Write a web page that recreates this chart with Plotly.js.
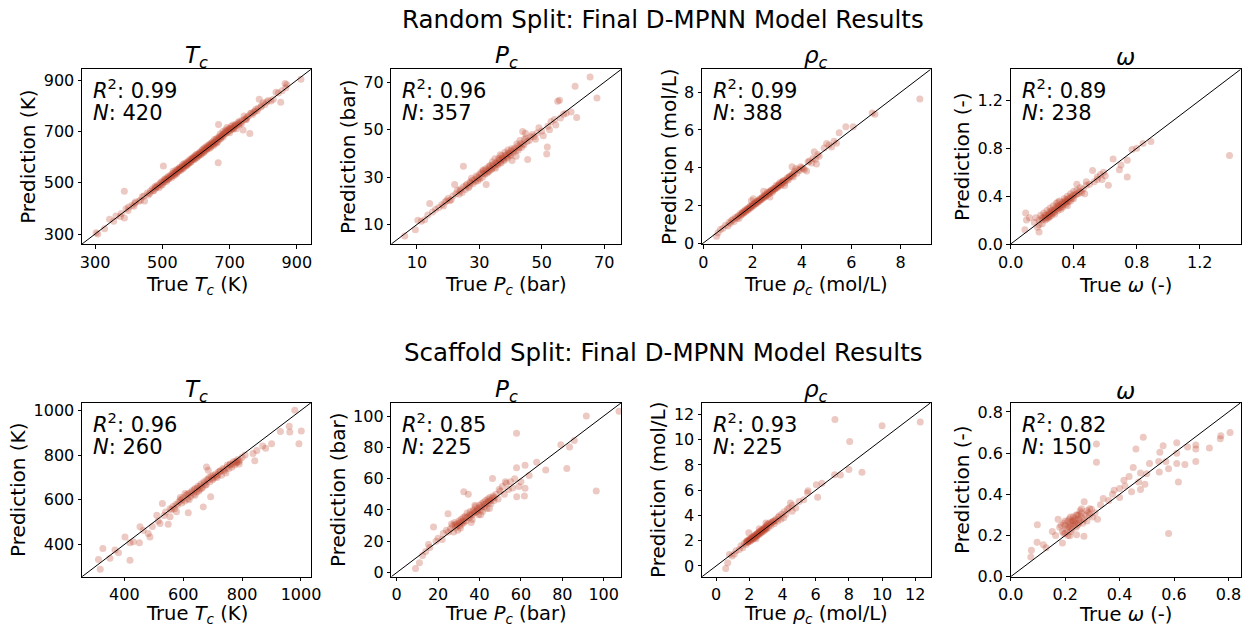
<!DOCTYPE html>
<html>
<head>
<meta charset="utf-8">
<script src="https://cdn.plot.ly/plotly-3.0.1.min.js"></script>
<style>html,body{margin:0;padding:0;background:#fff;}#chart{width:1242px;height:628px;}</style>
</head>
<body>
<div id="chart"></div>
<script>
// ---------- DATA (true, predicted) ----------
const randomTc = [[303,305],[308,300],[328,320],[343,357],[355,350],[362,370],[375,368],[387,362],[392,398],[387,467],[400,405],[410,412],[418,420],[430,428],[440,445],[447,429],[455,460],[462,458],[470,475],[475,470],[480,482],[485,490],[490,480],[495,500],[498,505],[500,492],[503,565],[505,510],[510,512],[512,505],[515,520],[518,525],[520,515],[525,530],[528,520],[530,535],[532,545],[535,528],[538,540],[540,548],[542,535],[545,552],[548,545],[550,555],[552,560],[555,548],[558,562],[560,570],[562,555],[565,575],[568,565],[570,572],[572,580],[575,570],[578,585],[580,578],[582,590],[585,582],[588,595],[590,588],[592,600],[595,590],[598,605],[600,610],[602,598],[605,612],[608,605],[610,615],[612,620],[615,610],[618,625],[620,630],[622,618],[625,635],[628,625],[630,640],[632,632],[635,645],[638,640],[640,650],[642,635],[645,655],[648,650],[650,660],[652,645],[655,668],[658,660],[660,670],[662,655],[665,675],[667,727],[666,578],[668,668],[670,680],[672,690],[675,678],[678,685],[680,700],[682,690],[685,695],[688,705],[690,700],[692,715],[695,705],[698,710],[700,695],[702,712],[705,720],[708,710],[710,725],[712,715],[715,722],[718,728],[720,710],[725,735],[728,725],[730,740],[735,730],[740,705],[743,760],[748,745],[752,755],[760,692],[762,770],[768,766],[772,775],[778,786],[782,780],[788,825],[795,800],[805,805],[815,820],[823,818],[838,853],[845,850],[852,814],[865,887],[867,870],[912,903],
  [480,478],[486,484],[492,495],[496,490],[502,500],[506,504],[508,515],[514,510],[517,514],[522,522],[526,524],[531,528],[534,538],[537,533],[541,542],[544,540],[547,550],[551,548],[554,556],[557,553],[561,563],[564,560],[567,570],[571,566],[574,577],[577,574],[581,584],[584,580],[587,590],[591,594],[594,598],[597,593],[601,604],[604,600],[607,610],[611,608],[614,618],[617,614],[621,624],[624,620],[627,631],[631,628],[634,638],[637,633],[641,645],[644,640],[647,652],[651,648],[654,658],[657,653],[661,665],[664,660],[669,673],[673,670],[677,682],[681,678],[686,690],[691,694],[696,700],[701,704],[706,709],[711,708],[716,719],[721,724],[727,730],[733,736],[738,742],[745,748],[750,748],[756,760],[765,772],[775,778],[785,790],[793,795],[800,812],[810,815],[830,825],[856,858],[870,882],[458,452],[465,468],[472,468],[478,485],[420,425],[435,432],[445,448],[378,380],[398,392],[415,408]];
const randomPc = [[6.1,5.2],[9.5,7.8],[10.3,11.8],[11.4,11.4],[12.5,12.0],[13.5,14.0],[14.1,18.9],[15.0,15.3],[16.0,16.5],[17.0,17.2],[18.0,18.5],[18.5,17.8],[19.5,20.0],[20.0,21.0],[21.0,20.5],[21.5,22.0],[22.1,26.9],[22.5,23.0],[23.0,24.5],[23.5,22.8],[24.0,25.0],[24.5,23.5],[24.9,34.6],[25.0,26.0],[25.5,24.8],[26.0,27.0],[26.5,25.5],[27.0,28.0],[27.5,29.5],[28.0,27.2],[28.5,29.0],[29.0,30.5],[29.5,28.5],[30.0,31.0],[30.2,29.2],[30.5,32.0],[31.0,30.0],[31.2,33.0],[31.5,31.5],[32.0,33.5],[32.2,26.9],[32.5,31.8],[33.0,34.5],[33.2,32.5],[33.5,35.0],[34.0,33.5],[34.2,36.5],[34.5,34.8],[35.0,37.8],[35.2,33.8],[35.5,36.0],[36.0,35.2],[36.2,38.0],[36.5,37.0],[37.0,36.0],[37.2,39.0],[37.5,38.0],[38.0,37.0],[38.2,40.5],[38.5,39.0],[39.0,38.0],[39.2,41.5],[39.5,40.0],[40.0,39.0],[40.3,42.0],[40.5,37.0],[41.0,41.5],[41.8,38.8],[42.0,44.0],[42.5,41.5],[43.0,45.5],[43.5,42.5],[43.9,49.3],[44.0,44.0],[44.5,46.0],[45.0,46.5],[45.5,37.5],[46.0,45.5],[47.0,48.0],[48.0,46.0],[49.1,50.8],[50.0,49.5],[50.5,47.5],[51.6,39.8],[51.8,42.7],[52.5,50.0],[53.0,53.5],[54.1,54.3],[55.1,62.0],[55.7,62.4],[56.0,55.0],[57.8,57.0],[59.4,57.5],[60.7,68.3],[61.2,55.2],[65.5,72.2],[67.7,63.4],
  [25.8,26.5],[26.8,26.2],[27.8,28.6],[28.8,28.2],[29.3,30.0],[29.8,29.5],[30.8,31.5],[31.8,31.2],[32.3,33.0],[32.8,32.4],[33.3,34.0],[33.8,33.2],[34.3,35.2],[34.8,34.2],[35.3,36.0],[35.8,35.5],[36.3,37.2],[36.8,36.4],[37.3,38.0],[37.8,37.4],[38.3,39.2],[38.8,38.5],[39.3,40.2],[39.8,39.5],[40.2,41.0],[40.8,40.4],[41.3,42.2],[41.7,41.0],[42.3,43.0],[42.8,42.5],[43.3,44.2],[44.3,43.6],[45.3,45.0],[46.5,47.0],[47.5,47.0],[19.0,19.5],[20.5,20.0],[23.8,24.2],[27.2,27.5],[31.3,32.6],[36.7,39.5],[44.8,48.5],[48.5,48.6],[52.0,51.5],[54.5,52.0],[57.0,56.5]];
const randomRho = [[0.54,0.36],[0.6,0.55],[0.7,0.72],[0.8,0.78],[0.9,0.95],[1.0,0.9],[1.05,1.1],[1.1,1.05],[1.2,1.25],[1.25,1.15],[1.3,1.35],[1.4,1.4],[1.45,1.3],[1.5,1.55],[1.55,1.5],[1.6,1.65],[1.65,1.6],[1.7,1.75],[1.75,1.7],[1.8,1.85],[1.85,1.8],[1.9,1.95],[1.95,1.9],[2.0,2.05],[2.03,2.35],[2.05,2.0],[2.1,2.15],[2.15,2.1],[2.2,2.25],[2.25,2.2],[2.3,2.35],[2.35,2.3],[2.4,2.45],[2.45,2.4],[2.5,2.55],[2.55,2.5],[2.6,2.7],[2.65,2.6],[2.7,2.75],[2.75,2.8],[2.8,2.7],[2.85,2.9],[2.9,2.85],[2.95,3.05],[3.0,2.95],[3.05,3.1],[3.1,3.2],[3.15,3.05],[3.2,3.25],[3.25,3.3],[3.3,3.2],[3.4,3.45],[3.45,3.35],[3.5,3.55],[3.6,3.65],[3.65,3.5],[3.7,3.8],[3.75,3.95],[3.8,3.7],[3.9,3.85],[4.0,4.0],[4.1,3.9],[4.19,3.82],[4.3,4.35],[4.4,4.25],[4.5,4.84],[4.55,4.45],[4.59,4.2],[4.7,4.6],[4.9,5.05],[5.0,5.28],[5.2,5.1],[5.4,5.3],[5.51,5.85],[5.78,6.17],[6.08,6.17],[6.96,6.84],[6.85,6.9],[8.78,7.64],
  [1.15,1.2],[1.35,1.3],[1.42,1.45],[1.52,1.48],[1.58,1.6],[1.62,1.58],[1.68,1.7],[1.72,1.68],[1.78,1.8],[1.82,1.78],[1.88,1.9],[1.92,1.88],[1.98,2.0],[2.02,1.98],[2.08,2.1],[2.12,2.08],[2.18,2.2],[2.22,2.18],[2.28,2.3],[2.32,2.28],[2.38,2.4],[2.42,2.38],[2.48,2.5],[2.52,2.48],[2.58,2.6],[2.62,2.58],[2.68,2.7],[2.72,2.68],[2.78,2.8],[2.82,2.78],[2.88,2.9],[2.92,2.88],[2.98,3.0],[3.02,2.98],[3.08,3.1],[3.12,3.08],[3.18,3.2],[3.22,3.18],[3.28,3.3],[3.35,3.32],[3.42,3.4],[3.48,3.5],[3.55,3.52],[3.62,3.6],[3.68,3.7],[3.85,3.9],[3.95,4.05],[4.05,3.95],[4.25,4.3],[4.45,4.5],[4.65,4.7],[5.1,5.2],[5.3,5.4],[2.45,2.75],[1.95,2.25],[3.6,4.05],[2.7,2.45],[3.3,3.05]];
const randomOmega = [[0.09,0.12],[0.1,0.2],[0.095,0.26],[0.12,0.22],[0.15,0.18],[0.17,0.14],[0.18,0.1],[0.18,0.2],[0.19,0.24],[0.2,0.17],[0.2,0.22],[0.21,0.26],[0.22,0.2],[0.22,0.24],[0.23,0.21],[0.23,0.28],[0.24,0.25],[0.24,0.22],[0.25,0.27],[0.25,0.3],[0.26,0.24],[0.26,0.28],[0.27,0.32],[0.27,0.26],[0.28,0.29],[0.28,0.25],[0.29,0.31],[0.29,0.34],[0.3,0.28],[0.3,0.32],[0.31,0.3],[0.31,0.36],[0.32,0.33],[0.32,0.29],[0.33,0.35],[0.33,0.31],[0.34,0.38],[0.34,0.34],[0.35,0.33],[0.35,0.37],[0.36,0.4],[0.36,0.35],[0.37,0.38],[0.38,0.36],[0.38,0.42],[0.39,0.4],[0.4,0.38],[0.4,0.44],[0.41,0.41],[0.42,0.5],[0.42,0.45],[0.43,0.42],[0.44,0.47],[0.45,0.43],[0.46,0.46],[0.47,0.42],[0.48,0.49],[0.5,0.5],[0.52,0.615],[0.53,0.52],[0.55,0.56],[0.57,0.58],[0.58,0.54],[0.59,0.6],[0.6,0.57],[0.62,0.49],[0.65,0.71],[0.69,0.62],[0.7,0.66],[0.74,0.56],[0.74,0.7],[0.77,0.79],[0.8,0.8],[0.84,0.84],[0.89,0.857],[1.389,0.74],
  [0.2,0.2],[0.21,0.22],[0.22,0.22],[0.23,0.24],[0.24,0.23],[0.25,0.25],[0.26,0.26],[0.27,0.28],[0.28,0.27],[0.29,0.29],[0.3,0.3],[0.31,0.32],[0.32,0.31],[0.33,0.33],[0.34,0.35],[0.35,0.35],[0.36,0.37],[0.37,0.36],[0.38,0.39],[0.39,0.38],[0.4,0.41],[0.42,0.42],[0.44,0.44],[0.3,0.35],[0.25,0.23],[0.36,0.32],[0.18,0.16],[0.16,0.22],[0.48,0.52],[0.55,0.54]];
const scaffoldTc = [[318,289],[312,333],[327,382],[351,338],[368,375],[380,363],[402,434],[419,330],[419,408],[430,412],[451,408],[453,479],[464,464],[481,449],[487,434],[495,480],[510,531],[515,505],[521,494],[529,583],[535,530],[540,545],[549,491],[555,524],[560,555],[565,570],[570,560],[577,546],[580,575],[585,590],[590,600],[595,585],[600,610],[605,595],[606,628],[610,620],[615,605],[617,542],[620,630],[625,615],[630,640],[635,625],[640,650],[645,635],[650,660],[655,645],[660,670],[662,650],[668,568],[670,680],[675,665],[679,747],[680,690],[685,732],[688,700],[690,680],[693,613],[695,705],[700,690],[705,700],[710,715],[715,700],[720,725],[724,725],[730,710],[735,740],[740,730],[745,720],[750,755],[755,740],[760,760],[765,745],[770,770],[775,755],[780,765],[785,780],[790,760],[792,777],[800,790],[810,800],[837,807],[843,774],[850,820],[870,840],[880,830],[900,850],[930,905],[960,929],[962,903],[979,1000],[993,851],[1001,908],
  [555,560],[575,580],[595,600],[615,625],[628,632],[638,645],[648,652],[652,638],[658,662],[665,655],[672,675],[678,668],[684,690],[698,695],[702,710],[712,705],[718,712],[726,730],[738,735],[748,745],[758,755],[768,760],[778,772],[782,768],[788,770],[640,620],[620,600],[590,610]];
const scaffoldPc = [[9.1,2.7],[11,6.3],[12.5,11],[14,13.5],[15.4,17.9],[16,16],[17.8,29.1],[19,20],[20,22],[22,21.1],[22.5,25],[24,27],[24.8,37.6],[25,26],[26,28],[27,30],[27.5,26],[28,32],[28.5,29],[29,31],[29.5,27],[30,33],[30.5,30],[31,34],[31.5,31],[32,35],[32.4,51.7],[32.5,32],[33,36],[33.5,33],[34,38],[34.6,50],[35,35],[35.5,39],[36,37],[36.5,34],[37,40],[37.5,38],[38,42],[38.5,39],[39,41],[39.5,37],[40,43],[40.5,40],[41,44],[41.5,39],[42,45],[42.5,42],[43,46],[43.5,41],[44,47],[44.5,45],[45,48],[45.5,44],[46.3,60.1],[46.5,49],[47,46],[48,50],[49,47],[50,52],[51,55],[52,50],[53,57],[54,53],[55,58],[56,54],[57,60],[57.9,66.9],[57.9,89],[58,48.5],[59,55],[60,58],[61.7,49],[62,53.8],[62,68.6],[64,62],[67.6,70.5],[72,65.6],[79.3,81.6],[82.2,66.5],[83.5,80.2],[85.8,84.4],[91.6,100],[96.4,52.1],[107.4,103],
  [28.2,30.5],[29.2,30],[30.2,31.5],[31.2,32.5],[32.2,33],[33.2,35],[34.2,35.5],[35.2,37],[36.2,36.5],[37.2,39],[38.2,38.5],[39.2,40],[40.2,41.5],[41.2,42],[42.2,43.5],[43.2,44],[44.2,45.5],[45.2,46],[46.2,47.5],[47.2,48],[30.8,28.5],[36,32],[40.6,37],[44.8,41],[26.5,31],[37.8,43],[49.5,53],[52.5,58]];
const scaffoldRho = [[0.58,-0.21],[0.7,0.26],[0.96,0.79],[0.8,0.9],[1.1,0.95],[1.2,1.2],[1.4,1.3],[1.5,1.6],[1.6,1.45],[1.7,1.8],[1.8,1.7],[1.85,1.95],[1.9,1.85],[1.97,2.63],[2.0,2.05],[2.05,1.95],[2.1,2.2],[2.15,2.05],[2.2,2.3],[2.25,2.15],[2.3,2.4],[2.35,2.25],[2.4,2.5],[2.45,2.35],[2.5,2.6],[2.55,2.45],[2.6,2.7],[2.65,2.55],[2.7,2.8],[2.75,2.65],[2.8,2.9],[2.85,2.75],[2.9,3.0],[2.95,2.85],[3.0,3.15],[3.05,2.95],[3.1,3.3],[3.15,3.05],[3.2,3.4],[3.3,3.2],[3.4,3.5],[3.5,3.35],[3.6,3.7],[3.7,3.55],[3.8,3.95],[3.9,3.7],[4.07,3.81],[4.1,4.3],[4.2,4.1],[4.3,4.5],[4.48,4.99],[4.58,4.33],[4.6,4.8],[4.8,4.6],[5.0,5.1],[5.28,5.25],[5.5,5.8],[5.54,5.96],[6.04,6.43],[6.12,5.44],[6.38,6.56],[7.14,7.22],[7.16,11.6],[7.49,7.2],[8.0,7.64],[8.05,9.85],[8.79,7.43],[10.0,11.1],[12.3,11.4],
  [1.82,1.9],[1.88,2.0],[1.92,1.9],[1.98,2.1],[2.02,2.0],[2.08,2.15],[2.12,2.1],[2.18,2.25],[2.22,2.2],[2.28,2.35],[2.32,2.3],[2.38,2.45],[2.42,2.4],[2.48,2.55],[2.52,2.5],[2.58,2.65],[2.62,2.6],[2.68,2.75],[2.72,2.7],[2.78,2.85],[2.82,2.8],[2.88,2.95],[2.92,2.9],[2.98,3.05],[3.02,3.0],[3.08,3.2],[3.25,3.3],[3.35,3.45],[3.45,3.55],[3.55,3.6],[3.75,3.85],[3.95,4.1],[4.4,4.6],[2.6,2.95],[3.0,3.4],[2.4,2.15]];
const scaffoldOmega = [[0.074,0.096],[0.076,0.128],[0.097,0.167],[0.098,0.252],[0.12,0.155],[0.13,0.14],[0.153,0.22],[0.165,0.2],[0.174,0.279],[0.18,0.24],[0.19,0.164],[0.19,0.22],[0.195,0.26],[0.2,0.21],[0.2,0.25],[0.205,0.23],[0.21,0.27],[0.21,0.2],[0.215,0.24],[0.217,0.199],[0.22,0.26],[0.22,0.29],[0.225,0.23],[0.23,0.27],[0.23,0.25],[0.235,0.28],[0.24,0.24],[0.242,0.204],[0.245,0.3],[0.25,0.26],[0.25,0.28],[0.255,0.32],[0.26,0.29],[0.264,0.26],[0.269,0.196],[0.27,0.364],[0.275,0.3],[0.28,0.27],[0.285,0.31],[0.29,0.33],[0.297,0.327],[0.3,0.29],[0.31,0.31],[0.315,0.556],[0.315,0.645],[0.319,0.279],[0.33,0.35],[0.34,0.38],[0.36,0.37],[0.374,0.4],[0.38,0.42],[0.4,0.385],[0.4,0.428],[0.416,0.468],[0.42,0.44],[0.435,0.487],[0.444,0.412],[0.45,0.53],[0.46,0.62],[0.47,0.46],[0.477,0.423],[0.477,0.503],[0.487,0.677],[0.493,0.449],[0.5,0.5],[0.51,0.55],[0.544,0.56],[0.546,0.508],[0.548,0.604],[0.56,0.636],[0.57,0.56],[0.58,0.524],[0.58,0.21],[0.61,0.55],[0.61,0.6],[0.61,0.65],[0.616,0.46],[0.64,0.545],[0.65,0.63],[0.68,0.56],[0.68,0.62],[0.68,0.64],[0.73,0.625],[0.77,0.67],[0.772,0.685],[0.806,0.7],
  [0.185,0.25],[0.2,0.27],[0.21,0.24],[0.215,0.28],[0.22,0.25],[0.225,0.27],[0.23,0.29],[0.235,0.26],[0.24,0.27],[0.245,0.25],[0.25,0.3],[0.255,0.27],[0.26,0.31],[0.27,0.28],[0.28,0.32],[0.22,0.22],[0.195,0.21],[0.24,0.3],[0.26,0.33],[0.29,0.3]];

const rowTitles = ['Random Split: Final D-MPNN Model Results', 'Scaffold Split: Final D-MPNN Model Results'];
const propSymbols = ['<i>T<sub>c</sub></i>', '<i>P<sub>c</sub></i>', '<i>ρ<sub>c</sub></i>', '<i>ω</i>'];
const propUnits = ['K', 'bar', 'mol/L', '-'];
const r2Values = [['0.99', '0.96', '0.99', '0.89'], ['0.96', '0.85', '0.93', '0.82']];
const nValues = [[420, 357, 388, 238], [260, 225, 225, 150]];
const tickValues = [
  [[300, 500, 700, 900], [10, 30, 50, 70], [0, 2, 4, 6, 8], [0, 0.4, 0.8, 1.2]],
  [[400, 600, 800, 1000], [0, 20, 40, 60, 80, 100], [0, 2, 4, 6, 8, 10, 12], [0, 0.2, 0.4, 0.6, 0.8]]
];
const seriesGrid = [[randomTc, randomPc, randomRho, randomOmega], [scaffoldTc, scaffoldPc, scaffoldRho, scaffoldOmega]];

// ---------- LAYOUT SETTINGS ----------
const W = 1242, H = 628;
const FONT = 'DejaVu Sans, Verdana, sans-serif';
const axisRanges = [
  [[261, 942], [1.8, 75.5], [-0.05, 9.22], [0, 1.46]],
  [[256, 1034], [-2.6, 108.5], [-0.85, 12.93], [0, 0.845]]
];
const tickFormats = ['', '', '', '.1f'];
const colPx = [[82, 311], [391.3, 621.3], [702, 930.7], [1010.7, 1240.7]];
const rowPx = [[69.3, 244], [402.7, 576.7]];
const titleYpx = [20, 352];
const xTitleShift = [-41, -38];
const pointColor = 'rgb(190,68,46)';

const traces = [];
const layout = {
  width: W, height: H,
  margin: {l: 0, r: 0, t: 0, b: 0},
  paper_bgcolor: '#fff', plot_bgcolor: '#fff',
  showlegend: false,
  font: {family: FONT, color: '#000', size: 16},
  annotations: [], shapes: []
};

rowTitles.forEach((t, r) => {
  layout.annotations.push({
    text: t, xref: 'paper', yref: 'paper', x: 663 / W, y: 1 - titleYpx[r] / H,
    xanchor: 'center', yanchor: 'middle', showarrow: false,
    font: {family: FONT, size: 24.5, color: '#000'}
  });
});

for (let r = 0; r < 2; r++) {
  for (let c = 0; c < 4; c++) {
    const k = r * 4 + c + 1;
    const xa = 'x' + (k === 1 ? '' : k), ya = 'y' + (k === 1 ? '' : k);
    const xKey = 'xaxis' + (k === 1 ? '' : k), yKey = 'yaxis' + (k === 1 ? '' : k);
    const pts = seriesGrid[r][c];
    const rng = axisRanges[r][c];
    traces.push({
      type: 'scatter', mode: 'markers', xaxis: xa, yaxis: ya,
      x: pts.map(p => p[0]), y: pts.map(p => p[1]),
      marker: {color: pointColor, size: 7, opacity: 0.29, line: {width: 0}},
      hoverinfo: 'skip'
    });
    traces.push({
      type: 'scatter', mode: 'lines', xaxis: xa, yaxis: ya,
      x: [rng[0], rng[1]], y: [rng[0], rng[1]],
      line: {color: '#000', width: 1}, hoverinfo: 'skip'
    });
    const common = {
      range: rng, tickvals: tickValues[r][c], tickformat: tickFormats[c],
      showgrid: false, zeroline: false, showline: true, mirror: true,
      linecolor: '#000', linewidth: 1, ticks: 'outside', ticklen: 3.5, tickcolor: '#000',
      tickfont: {family: FONT, size: 16, color: '#000'}, fixedrange: true
    };
    layout[xKey] = Object.assign({}, common, {
      domain: [colPx[c][0] / W, colPx[c][1] / W], anchor: ya
    });
    layout[yKey] = Object.assign({}, common, {
      domain: [1 - rowPx[r][1] / H, 1 - rowPx[r][0] / H], anchor: xa,
      title: {text: 'Prediction (' + propUnits[c] + ')', standoff: 2,
              font: {family: FONT, size: 20, color: '#000'}}
    });
    // x-axis title (placed as annotation so the bottom row is not squeezed)
    layout.annotations.push({
      text: 'True ' + propSymbols[c] + ' (' + propUnits[c] + ')', xref: xa + ' domain', yref: ya + ' domain',
      x: 0.5, y: 0, xanchor: 'center', yanchor: 'middle', yshift: xTitleShift[r], showarrow: false,
      font: {family: FONT, size: 19.5, color: '#000'}
    });
    // subplot title
    layout.annotations.push({
      text: propSymbols[c], xref: xa + ' domain', yref: ya + ' domain', x: 0.5, y: 1,
      xanchor: 'center', yanchor: 'middle', yshift: 12, showarrow: false,
      font: {family: FONT, size: 23, color: '#000'}
    });
    // stats text
    layout.annotations.push({
      text: '<i>R</i><sup>2</sup>: ' + r2Values[r][c], xref: xa + ' domain', yref: ya + ' domain',
      x: 0, y: 1, xanchor: 'left', yanchor: 'middle', xshift: 9, yshift: -20, showarrow: false,
      font: {family: FONT, size: 21, color: '#000'}
    });
    layout.annotations.push({
      text: '<i>N</i>: ' + nValues[r][c], xref: xa + ' domain', yref: ya + ' domain',
      x: 0, y: 1, xanchor: 'left', yanchor: 'middle', xshift: 9, yshift: -44, showarrow: false,
      font: {family: FONT, size: 21, color: '#000'}
    });
  }
}

Plotly.newPlot('chart', traces, layout, {displayModeBar: false, staticPlot: true});
</script>
</body>
</html>
